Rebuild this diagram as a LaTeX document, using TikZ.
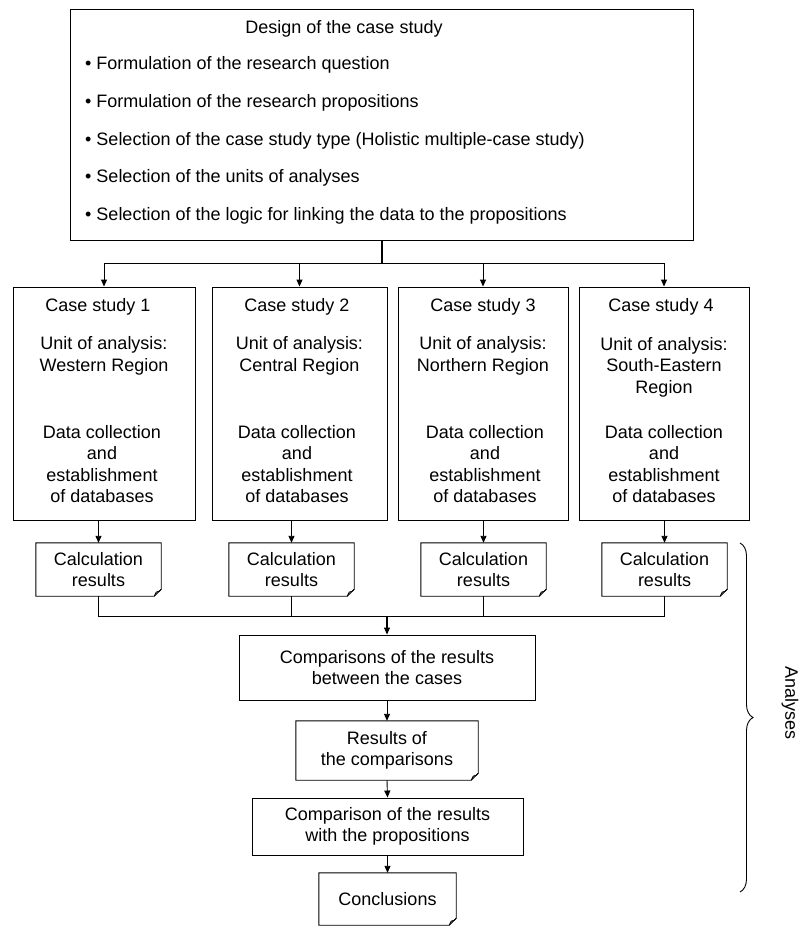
\documentclass[tikz,border=0pt]{standalone}
\usepackage{fontspec}
\setmainfont{Liberation Sans}
\usetikzlibrary{arrows.meta,decorations.pathreplacing}
\newcommand\docoutline[1]{%
  \draw[boxline] (#1.north west) -- (#1.north east) -- ([yshift=7pt]#1.south east) -- ([xshift=-7pt]#1.south east) -- (#1.south west) -- cycle;
  \draw[boxline] ([xshift=-7pt]#1.south east) -- ([xshift=-5pt,yshift=4pt]#1.south east) -- ([xshift=-2pt,yshift=5pt]#1.south east) -- ([yshift=7pt]#1.south east);}
\begin{document}
\begin{tikzpicture}[x=1pt,y=-1pt,
  font=\fontsize{18}{21.5}\selectfont,
  boxline/.style={line width=0.9pt},
  box/.style={draw,boxline,inner sep=0pt},
  doc/.style={inner sep=0pt,align=center},
  txt/.style={inner sep=0pt,align=center,anchor=center},
  bl/.style={inner sep=0pt,anchor=mid west},
  arr/.style={line width=0.9pt,-{Triangle[length=7pt,width=6pt]}},
  conn/.style={line width=0.9pt},
  trunk/.style={line width=2pt}]
\useasboundingbox (0,0) rectangle (800,928);
% top box
\node[box,minimum width=623pt,minimum height=231pt] (top) at (381.5,124.5) {};
\node[txt] (title) at (344,29) {Design of the case study};
\node[bl] (b1) at (85,67) {•~Formulation of the research question};
\node[bl] (b2) at (85,104.75) {•~Formulation of the research propositions};
\node[bl] (b3) at (85,142.5) {•~Selection of the case study type (Holistic multiple-case study)};
\node[bl] (b4) at (85,180.25) {•~Selection of the units of analyses};
\node[bl] (b5) at (85,218) {•~Selection of the logic for linking the data to the propositions};
% case boxes
\node[box,minimum width=182pt,minimum height=233pt] (c1) at (104,403.5) {};
\node[box,minimum width=175pt,minimum height=233pt] (c2) at (299.5,403.5) {};
\node[box,minimum width=170pt,minimum height=233pt] (c3) at (483,403.5) {};
\node[box,minimum width=170pt,minimum height=233pt] (c4) at (664,403.5) {};
\node[txt] (t1) at (98,307) {Case study 1};
\node[txt] (t2) at (297,307) {Case study 2};
\node[txt] (t3) at (483,307) {Case study 3};
\node[txt] (t4) at (661,307) {Case study 4};
\node[txt] (u1) at (104,356) {Unit of analysis:\\Western Region};
\node[txt] (u2) at (299.5,356) {Unit of analysis:\\Central Region};
\node[txt] (u3) at (483,356) {Unit of analysis:\\Northern Region};
\node[txt] (u4) at (664,367) {Unit of analysis:\\South-Eastern\\Region};
\node[txt] (d1) at (102,464) {Data collection\\and\\establishment\\of databases};
\node[txt] (d2) at (297,464) {Data collection\\and\\establishment\\of databases};
\node[txt] (d3) at (485,464) {Data collection\\and\\establishment\\of databases};
\node[txt] (d4) at (664,464) {Data collection\\and\\establishment\\of databases};
% calculation results
\node[doc,minimum width=125pt,minimum height=53pt] (r1) at (98.5,569.5) {Calculation\\results};
\node[doc,minimum width=125pt,minimum height=53pt] (r2) at (291.5,569.5) {Calculation\\results};
\node[doc,minimum width=125pt,minimum height=53pt] (r3) at (483.5,569.5) {Calculation\\results};
\node[doc,minimum width=125pt,minimum height=53pt] (r4) at (664.5,569.5) {Calculation\\results};
\docoutline{r1}\docoutline{r2}\docoutline{r3}\docoutline{r4}
% lower chain
\node[box,align=center,minimum width=296pt,minimum height=65pt] (cmp) at (387,667.5) {Comparisons of the results\\between the cases};
\node[doc,minimum width=182pt,minimum height=59pt] (res) at (387,750.5) {Results of\\the comparisons};
\docoutline{res}
\node[box,align=center,minimum width=271pt,minimum height=57pt] (prop) at (387.5,826.5) {Comparison of the results\\with the propositions};
\node[doc,minimum width=137pt,minimum height=52pt] (concl) at (387.5,899) {Conclusions};
\docoutline{concl}
% connectors top
\coordinate (j1) at (381.5,263);
\draw[trunk] (top.south) -- (j1);
\draw[conn] (j1 -| c1.north) -- (j1 -| c4.north);
\foreach \c in {c1,c2,c3,c4} {\draw[arr] (j1 -| \c.north) -- (\c.north);}
\draw[arr] (c1.south -| r1.north) -- (r1.north);
\draw[arr] (c2.south -| r2.north) -- (r2.north);
\draw[arr] (c3.south -| r3.north) -- (r3.north);
\draw[arr] (c4.south -| r4.north) -- (r4.north);
% bottom junction
\coordinate (j2) at (387,616);
\draw[conn] (r1.south) -- (r1.south |- j2) -- (r4.south |- j2) -- (r4.south);
\draw[conn] (r2.south) -- (r2.south |- j2);
\draw[conn] (r3.south) -- (r3.south |- j2);
\draw[trunk] (j2) -- ([yshift=7pt]cmp.north);
\draw[arr] ([yshift=8pt]cmp.north) -- (cmp.north);
\draw[arr] (cmp.south) -- (res.north);
\draw[arr] (res.south) -- (prop.north);
\draw[arr] (prop.south) -- (concl.north);
% brace
\coordinate (bt) at (740,543);
\coordinate (bb) at (740,892);
\draw[conn,decorate,decoration={brace,amplitude=13pt}] (bt) -- (bb);
\node[txt,rotate=-90] (an) at (790,703) {Analyses};
\end{tikzpicture}
\end{document}
